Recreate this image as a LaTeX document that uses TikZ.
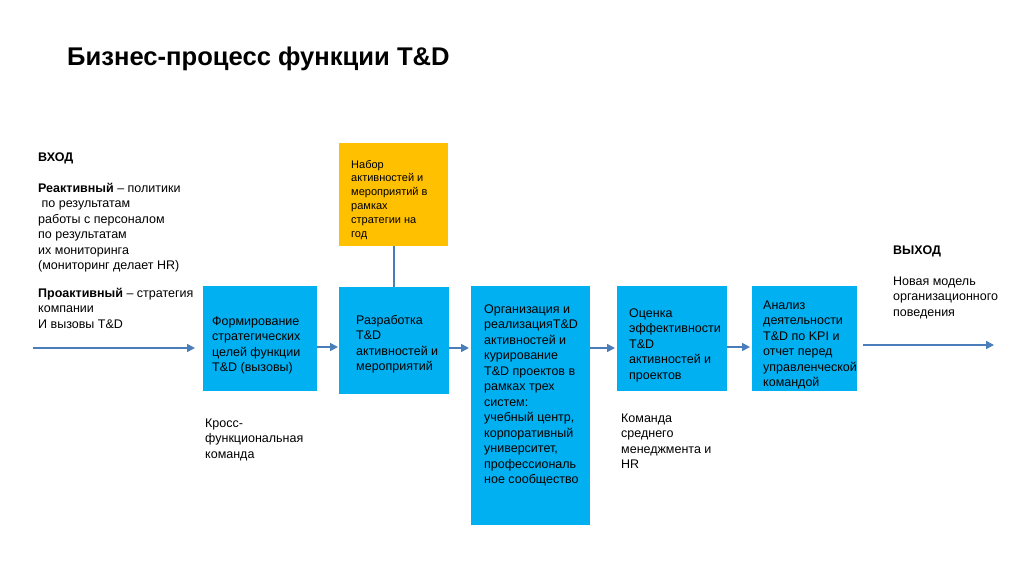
\documentclass[tikz,border=0pt]{standalone}
\usepackage{fontspec}
\setmainfont{Liberation Sans}
\usetikzlibrary{arrows.meta}
\definecolor{boxblue}{HTML}{00B0F0}
\definecolor{boxyellow}{HTML}{FFC000}
\definecolor{arrowblue}{HTML}{4A7EBB}
\newcommand{\tlines}[1]{\begin{tabular}[t]{@{}l@{}}#1\end{tabular}}
\tikzset{
  bluebox/.style={fill=boxblue, draw=none, inner sep=0pt, outer sep=0pt, anchor=north west},
  yellowbox/.style={fill=boxyellow, draw=none, inner sep=0pt, outer sep=0pt, anchor=north west},
  txt/.style={anchor=base west, inner sep=0pt, font=\fontsize{12.5}{15.5}\selectfont, text=black},
  smalltxt/.style={anchor=base west, inner sep=0pt, font=\fontsize{11}{13.8}\selectfont, text=black},
  flow/.style={draw=arrowblue, line width=1.6pt, -{Triangle[length=8pt,width=8pt]}},
  link/.style={draw=arrowblue, line width=1.6pt}
}
\begin{document}
\begin{tikzpicture}[x=1pt,y=-1pt]
\useasboundingbox[fill=white] (0,0) rectangle (1024,574);

% title
\node[anchor=base west, inner sep=0pt, font=\fontsize{25.6}{30}\selectfont\bfseries] (title) at (67,65) {Бизнес-процесс функции T\&D};

% boxes
\node[bluebox, minimum width=114pt, minimum height=105pt] (b1) at (203,286) {};
\node[bluebox, minimum width=110pt, minimum height=107pt] (b2) at (339,287) {};
\node[yellowbox, minimum width=109pt, minimum height=103pt] (y) at (339,143) {};
\node[bluebox, minimum width=119pt, minimum height=239pt] (b3) at (471,286) {};
\node[bluebox, minimum width=110pt, minimum height=105pt] (b4) at (617,286) {};
\node[bluebox, minimum width=105pt, minimum height=105pt] (b5) at (752,286) {};

% box texts
\node[txt] (t1) at (212,325) {\tlines{Формирование\\стратегических\\целей функции\\T\&D (вызовы)}};
\node[txt] (t2) at (356,324) {\tlines{Разработка\\T\&D\\активностей и\\мероприятий}};
\node[smalltxt] (ty) at (351,168) {\tlines{Набор\\активностей и\\мероприятий в\\рамках\\стратегии на\\год}};
\node[txt] (t3) at (484,313) {\tlines{Организация и\\реализацияT\&D\\активностей и\\курирование\\T\&D проектов в\\рамках трех\\систем:\\учебный центр,\\корпоративный\\университет,\\профессиональ\\ное сообщество}};
\node[txt] (t4) at (629,317) {\tlines{Оценка\\эффективности\\T\&D\\активностей и\\проектов}};
\node[txt] (t5) at (763,309) {\tlines{Анализ\\деятельности\\T\&D по KPI и\\отчет перед\\управленческой\\командой}};

% side texts
\node[txt, font=\fontsize{12.5}{15.5}\selectfont\bfseries] (in) at (38,161) {ВХОД};
\node[txt] (react) at (38,192) {\tlines{\textbf{Реактивный} -- политики\\\ по результатам\\работы с персоналом\\по результатам\\их мониторинга\\(мониторинг делает HR)}};
\node[txt] (proact) at (38,297) {\tlines{\textbf{Проактивный} -- стратегия\\компании\\И вызовы T\&D}};
\node[txt] (cross) at (205,427) {\tlines{Кросс-\\функциональная\\команда}};
\node[txt] (team) at (621,422) {\tlines{Команда\\среднего\\менеджмента и\\HR}};
\node[txt, font=\fontsize{12.5}{15.5}\selectfont\bfseries] (out) at (893,254) {ВЫХОД};
\node[txt] (model) at (893,285) {\tlines{Новая модель\\организационного\\поведения}};

% connectors
\coordinate (inStart) at (33,348);
\coordinate (inEnd) at (195,348);
\coordinate (outStart) at (863,345);
\coordinate (outEnd) at (994,345);
\coordinate (r1) at (0,347);
\coordinate (r2) at (0,348);

\draw[flow] (inStart) -- (inEnd);
\draw[flow, shorten >=1pt] (b1.east |- r1) -- (b2.west |- r1);
\draw[flow, shorten >=2pt] (b2.east |- r2) -- (b3.west |- r2);
\draw[flow, shorten >=2pt] (b3.east |- r2) -- (b4.west |- r2);
\draw[flow, shorten >=2pt] (b4.east |- r1) -- (b5.west |- r1);
\draw[flow] (outStart) -- (outEnd);
\draw[link] (y.south -| 394,0) -- (b2.north -| 394,0);
\end{tikzpicture}
\end{document}
